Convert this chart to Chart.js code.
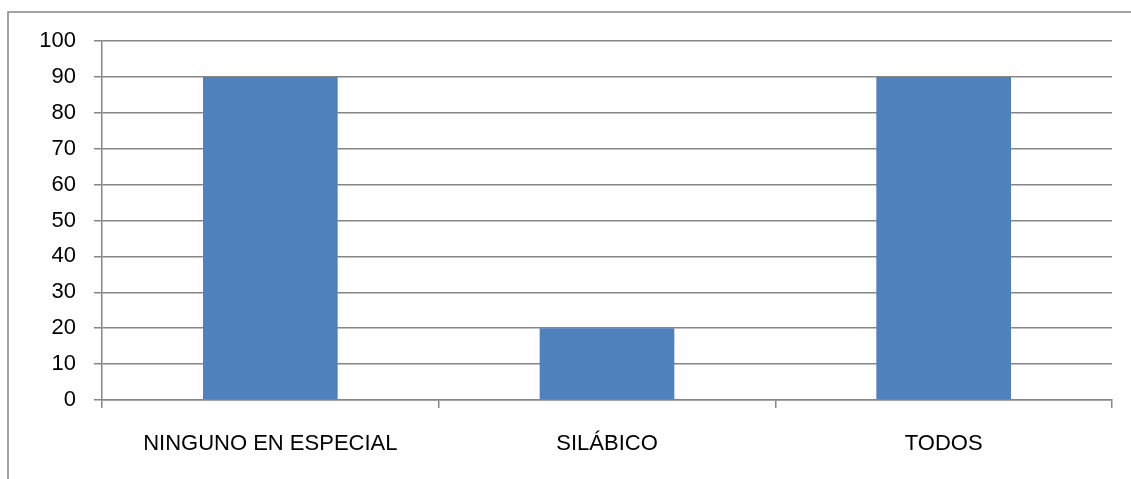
<!DOCTYPE html>
<html>
<head>
<meta charset="utf-8">
<script src="https://cdn.jsdelivr.net/npm/chart.js"></script>
<style>
  html, body { margin: 0; padding: 0; background: #fff; }
  #wrap { position: relative; width: 1131px; height: 479px; }
</style>
</head>
<body>
<div id="wrap"><canvas id="c"></canvas></div>
<script>
    // Chart data
    const categories = ['NINGUNO EN ESPECIAL', 'SILÁBICO', 'TODOS'];
    const values = [90, 20, 90];
    const yTicks = [0, 10, 20, 30, 40, 50, 60, 70, 80, 90, 100];

    const gridGray = '#868686';

    // outer frame (only top and left edges are visible in the picture)
    const framePlugin = {
        id: 'frame',
        beforeDraw(chart) {
            const ctx = chart.ctx;
            ctx.save();
            ctx.fillStyle = '#fff';
            ctx.fillRect(0, 0, chart.width, chart.height);
            ctx.strokeStyle = gridGray;
            ctx.lineWidth = 1.5;
            ctx.beginPath();
            ctx.moveTo(8, chart.height);
            ctx.lineTo(8, 12);
            ctx.lineTo(chart.width, 12);
            ctx.stroke();
            ctx.restore();
        }
    };

    new Chart(document.getElementById('c').getContext('2d'), {
        type: 'bar',
        data: {
            labels: categories,
            datasets: [{
                data: values,
                backgroundColor: '#4F81BD',
                borderWidth: 0,
                categoryPercentage: 1,
                barPercentage: 0.4
            }]
        },
        options: {
            responsive: true, maintainAspectRatio: false, animation: false,
            layout: { padding: { top: 41, right: 19, bottom: 0, left: 0 } },
            plugins: { legend: { display: false }, tooltip: { enabled: false } },
            font: { family: 'Liberation Sans' },
            scales: {
                x: {
                    grid: { drawOnChartArea: false, drawTicks: true, tickLength: 8, color: gridGray, lineWidth: 1.5 },
                    border: { color: gridGray, width: 1.5 },
                    ticks: { color: '#000', padding: 23, maxRotation: 0, font: { family: 'Liberation Sans', size: 22 } },
                    afterFit: s => { s.height = 79; }
                },
                y: {
                    min: 0, max: 100,
                    afterBuildTicks: s => { s.ticks = yTicks.map(v => ({ value: v })); },
                    grid: { color: gridGray, lineWidth: 1.5, tickLength: 8 },
                    border: { color: gridGray, width: 1.5 },
                    ticks: { color: '#000', padding: 18, font: { family: 'Liberation Sans', size: 22 } },
                    afterFit: s => { s.width = 102; }
                }
            }
        },
        plugins: [framePlugin]
    });
</script>
</body>
</html>
